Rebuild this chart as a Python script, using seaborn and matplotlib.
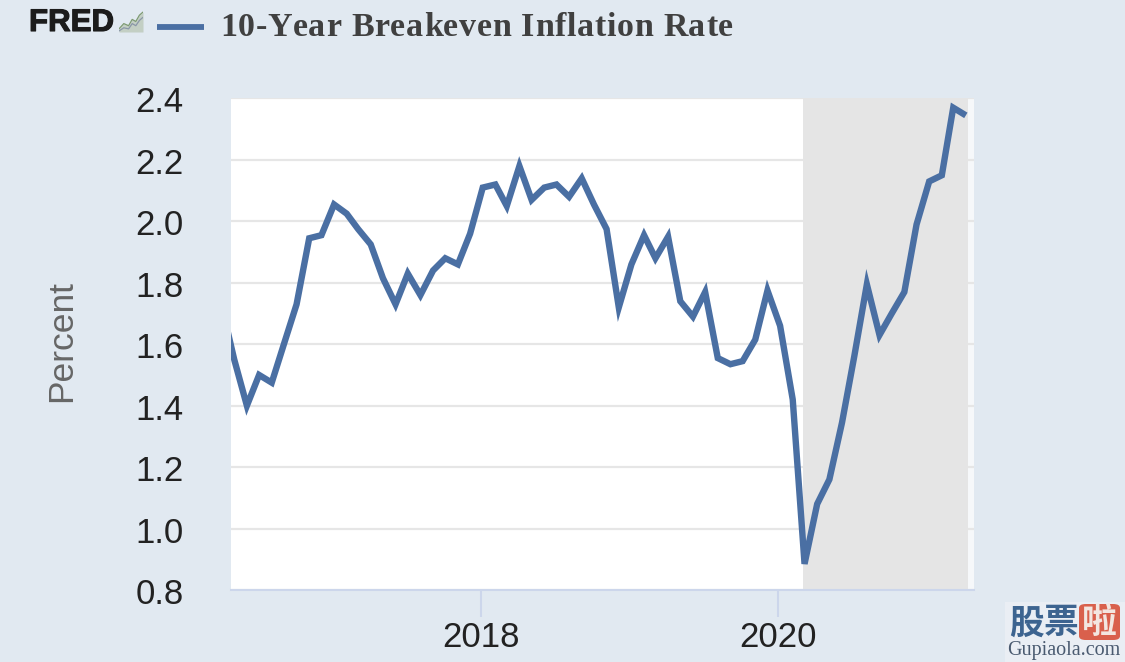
import numpy as np
import pandas as pd
import matplotlib
matplotlib.use("Agg")
import matplotlib.pyplot as plt
import matplotlib.dates as mdates
import matplotlib.patheffects as pe
from matplotlib.lines import Line2D
from matplotlib.patches import Rectangle, FancyBboxPatch
from matplotlib.transforms import ScaledTranslation
import seaborn as sns

# monthly values, first one sits just outside the axis
values = [1.72, 1.55, 1.40, 1.50, 1.475, 1.605, 1.73, 1.945, 1.955, 2.055, 2.025,
          1.975, 1.925, 1.815, 1.73, 1.83, 1.76, 1.84, 1.88, 1.86, 1.96,
          2.11, 2.12, 2.05, 2.18, 2.07, 2.11, 2.12, 2.08, 2.14, 2.055,
          1.975, 1.72, 1.86, 1.955, 1.88, 1.95, 1.74, 1.69, 1.77, 1.555,
          1.535, 1.545, 1.615, 1.775, 1.66, 1.42, 0.885, 1.08, 1.16, 1.345,
          1.56, 1.795, 1.63, 1.70, 1.77, 1.99, 2.13, 2.15, 2.37, 2.345]
# points sit a few days right of the month start on the reference's axis
dates = pd.date_range("2016-04-01", periods=len(values), freq="MS") + pd.Timedelta(days=4)
y_ticks = [0.8, 1.0, 1.2, 1.4, 1.6, 1.8, 2.0, 2.2, 2.4]
x_ticks = ["2018-01-01", "2020-01-01"]
x_labels = ["2018", "2020"]
title = "10-Year Breakeven Inflation Rate"

# logo sparkline
icon_x = [0.0, 0.2, 0.4, 0.55, 0.7, 0.85, 1.0]
icon_a = [0.15, 0.4, 0.3, 0.6, 0.5, 0.8, 0.95]
icon_b = [0.05, 0.2, 0.15, 0.4, 0.3, 0.55, 0.7]

W, H = 1125, 662
BG = "#e1e9f1"
BLUE = "#4a6fa3"

df = pd.DataFrame({"date": dates, "value": values})

sns.set_theme(style="white")
plt.rcParams["font.family"] = ["Liberation Sans", "DejaVu Sans"]

fig = plt.figure(figsize=(W / 100, H / 100), dpi=100, facecolor=BG)
ax = fig.add_axes([231 / W, (H - 590) / H, 743 / W, 492 / H], facecolor="#f6f8fa")
ax.axvspan(pd.Timestamp("2016-04-27"), pd.Timestamp("2020-03-01"), color="white", lw=0, zorder=0.1)

ax.axvspan(pd.Timestamp("2020-03-01"), pd.Timestamp("2021-04-10"), color="#e5e5e5", lw=0, zorder=1)
sns.lineplot(data=df, x="date", y="value", ax=ax, color=BLUE, linewidth=4.6,
             solid_joinstyle="miter", solid_capstyle="butt", zorder=3)

ax.set_xlim(pd.Timestamp("2016-04-27"), pd.Timestamp("2021-04-25"))
ax.set_ylim(0.8, 2.4016)
ax.set_yticks(y_ticks)
ax.set_yticklabels([f"{v:.1f}" for v in y_ticks])
ax.set_xticks([mdates.date2num(pd.Timestamp(d)) for d in x_ticks])
ax.set_xticklabels(x_labels)
ax.grid(axis="y", color="#e6e6e6", linewidth=1.6)
ax.grid(axis="x", visible=False)
ax.set_axisbelow(True)
ax.tick_params(axis="y", length=0, pad=34, labelsize=25, labelcolor="#222222")
ax.tick_params(axis="x", bottom=True, length=19.5, width=1.5, color="#ccd6eb", pad=3,
               labelsize=25, labelcolor="#222222")
ax.set_xlabel("")
ax.set_ylabel("")
sns.despine(ax=ax, left=True, right=True, top=True)
ax.spines["bottom"].set_color("#ccd6eb")
ax.spines["bottom"].set_linewidth(1.5)

# y labels sit a touch below their gridlines
nudge = ScaledTranslation(0, -0.7 / 72, fig.dpi_scale_trans)
for lab in ax.get_yticklabels():
    lab.set_transform(lab.get_transform() + nudge)

fig.text(62 / W, 1 - 341 / H, "Percent", rotation=90, ha="center", va="center",
         fontsize=25.5, color="#666666")

# header: logo, legend swatch, title
logo = fig.text(29 / W, 1 - 31 / H, "FRED", fontsize=22.5, fontweight="bold", color="#1c1c1c",
                ha="left", va="baseline")
logo.set_path_effects([pe.withStroke(linewidth=0.8, foreground="#1c1c1c")])
icon = fig.add_axes([119 / W, 1 - 32 / H, 24 / W, 21 / H])
icon.fill_between(icon_x, 0, icon_a, color="#c3cfc4", lw=0)
icon.plot(icon_x, icon_a, color="#7d9a72", lw=0.9)
icon.plot(icon_x, icon_b, color="#8a97a8", lw=0.9)
icon.set_xlim(0, 1)
icon.set_ylim(0, 1)
icon.axis("off")
fig.add_artist(Line2D([157 / W, 204 / W], [1 - 27 / H, 1 - 27 / H], color=BLUE, lw=4.2,
                      solid_capstyle="butt"))

# title is letter-spaced in the reference, so place it char by char
title_size = 24.5
title_x, title_end = 220, 733
renderer = fig.canvas.get_renderer()


def text_w(s):
    t = fig.text(0, 0, s, family="Liberation Serif", fontweight="bold", fontsize=title_size)
    w = t.get_window_extent(renderer).width
    t.remove()
    return w


x_w = text_w("x")
# unkerned advances so neighbouring glyphs never collide
adv = [text_w(ch + "x") - x_w for ch in title]
spacing = (title_end - title_x - sum(adv)) / (len(title) - 1)
pos = title_x
for ch, a in zip(title, adv):
    if ch != " ":
        fig.text(pos / W, 1 - 36 / H, ch, family="Liberation Serif",
                 fontweight="bold", fontsize=title_size, color="#404040", ha="left", va="baseline")
    pos += a + spacing

# watermark
fig.add_artist(Rectangle((1005 / W, 0), 120 / W, 60 / H, transform=fig.transFigure,
                         facecolor="#eaeef4", edgecolor="none"))
fig.add_artist(FancyBboxPatch((1079 / W, 1 - 640 / H), 41 / W, 36 / H, transform=fig.transFigure,
                              boxstyle="round,pad=0,rounding_size=0.006",
                              facecolor="#d9604c", edgecolor="none"))
cjk = ["Noto Sans CJK SC", "DejaVu Sans"]
fig.text(1027 / W, 1 - 623 / H, "股", family=cjk, fontweight="bold", fontsize=25, color="#3d6490",
         ha="center", va="center")
fig.text(1061 / W, 1 - 623 / H, "票", family=cjk, fontweight="bold", fontsize=25, color="#3d6490",
         ha="center", va="center")
fig.text(1099 / W, 1 - 622 / H, "啦", family=cjk, fontweight="bold", fontsize=25, color="#f3e6e0",
         ha="center", va="center")
fig.text(1064 / W, 1 - 651 / H, "Gupiaola.com", family="Liberation Serif", fontsize=14.5,
         color="#4a5a70", ha="center", va="center")

fig.savefig("out.png", dpi=100, facecolor=BG)
